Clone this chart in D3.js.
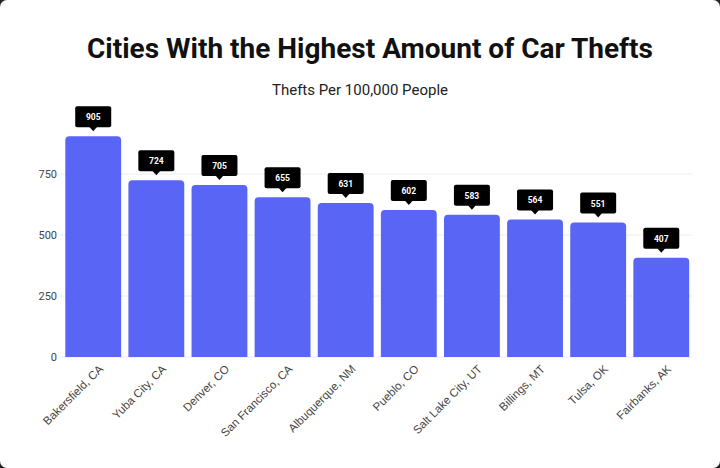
<!DOCTYPE html>
<html>
<head>
<meta charset="utf-8">
<script src="https://cdn.jsdelivr.net/npm/d3@7"></script>
<style>
  html, body { margin: 0; padding: 0; background: #222; }
  svg { display: block; }
</style>
</head>
<body>
<svg id="chart" width="720" height="468"></svg>
<script>
// Chart data
const cities = ["Bakersfield, CA", "Yuba City, CA", "Denver, CO", "San Francisco, CA",
    "Albuquerque, NM", "Pueblo, CO", "Salt Lake City, UT", "Billings, MT", "Tulsa, OK", "Fairbanks, AK"];
const thefts = [905, 724, 705, 655, 631, 602, 583, 564, 551, 407];
const yTicks = [0, 250, 500, 750];

const titleText = "Cities With the Highest Amount of Car Thefts";
const subtitleText = "Thefts Per 100,000 People";

const data = cities.map((c, i) => ({ city: c, value: thefts[i] }));

const svg = d3.select("#chart");
const width = 720, height = 468;

// white card
svg.append("rect")
    .attr("width", width)
    .attr("height", height)
    .attr("rx", 7)
    .attr("fill", "#fff");

const x = d3.scaleBand()
    .domain(cities)
    .range([61.5, 693])
    .paddingInner(0.115)
    .paddingOuter(0.06);

const y = d3.scaleLinear()
    .domain([0, 1000])
    .range([357, 113]);

// Title
svg.append("text")
    .attr("x", 370)
    .attr("y", 58)
    .attr("text-anchor", "middle")
    .attr("font-family", "Roboto, sans-serif")
    .attr("font-weight", 700)
    .attr("font-size", "28px")
    .attr("fill", "#111")
    .text(titleText);

svg.append("text")
    .attr("x", 360)
    .attr("y", 95)
    .attr("text-anchor", "middle")
    .attr("font-family", "Roboto, sans-serif")
    .attr("font-size", "15px")
    .attr("fill", "#222")
    .text(subtitleText);

// gridlines
svg.append("g")
    .selectAll("line")
    .data(yTicks)
    .join("line")
    .attr("x1", 60)
    .attr("x2", 692)
    .attr("y1", d => y(d))
    .attr("y2", d => y(d))
    .attr("stroke", "#ececec")
    .attr("stroke-width", 1);

// y axis (labels only)
const yAxis = svg.append("g")
    .attr("transform", "translate(57,0)")
    .call(d3.axisLeft(y).tickValues(yTicks).tickSize(0).tickPadding(0));
yAxis.select(".domain").remove();
yAxis.selectAll("text")
    .attr("font-family", "Roboto, sans-serif")
    .attr("font-size", "11px")
    .attr("fill", "#444");

// bars with rounded tops
const r = 4;
function barPath(d) {
    const x0 = x(d.city), x1 = x0 + x.bandwidth();
    const y0 = y(d.value), yb = y(0);
    return `M${x0},${yb}V${y0 + r}Q${x0},${y0} ${x0 + r},${y0}H${x1 - r}Q${x1},${y0} ${x1},${y0 + r}V${yb}Z`;
}
svg.append("g")
    .selectAll("path")
    .data(data)
    .join("path")
    .attr("d", barPath)
    .attr("fill", "#5966f5");

// value tags
const tags = svg.append("g")
    .selectAll("g")
    .data(data)
    .join("g")
    .attr("transform", d => `translate(${x(d.city) + x.bandwidth() / 2},${y(d.value) - 9})`);

tags.append("rect")
    .attr("x", -18)
    .attr("y", -21)
    .attr("width", 36)
    .attr("height", 21)
    .attr("rx", 2)
    .attr("fill", "#000");

tags.append("path")
    .attr("d", "M-4,-0.5L0,4L4,-0.5Z")
    .attr("fill", "#000");

tags.append("text")
    .attr("y", -7)
    .attr("text-anchor", "middle")
    .attr("font-family", "Roboto, sans-serif")
    .attr("font-weight", 700)
    .attr("font-size", "8.5px")
    .attr("fill", "#fff")
    .text(d => d.value);

// x labels
const xAxis = svg.append("g")
    .attr("transform", `translate(0,${y(0) + 6})`)
    .call(d3.axisBottom(x).tickSize(0).tickPadding(0));
xAxis.select(".domain").remove();
xAxis.selectAll("text")
    .attr("font-family", "Liberation Sans, Arial, sans-serif")
    .attr("font-size", "11.5px")
    .attr("fill", "#444")
    .attr("text-anchor", "end")
    .attr("dy", "0.7em")
    .attr("transform", "translate(5,1) rotate(-45)");
</script>
</body>
</html>
